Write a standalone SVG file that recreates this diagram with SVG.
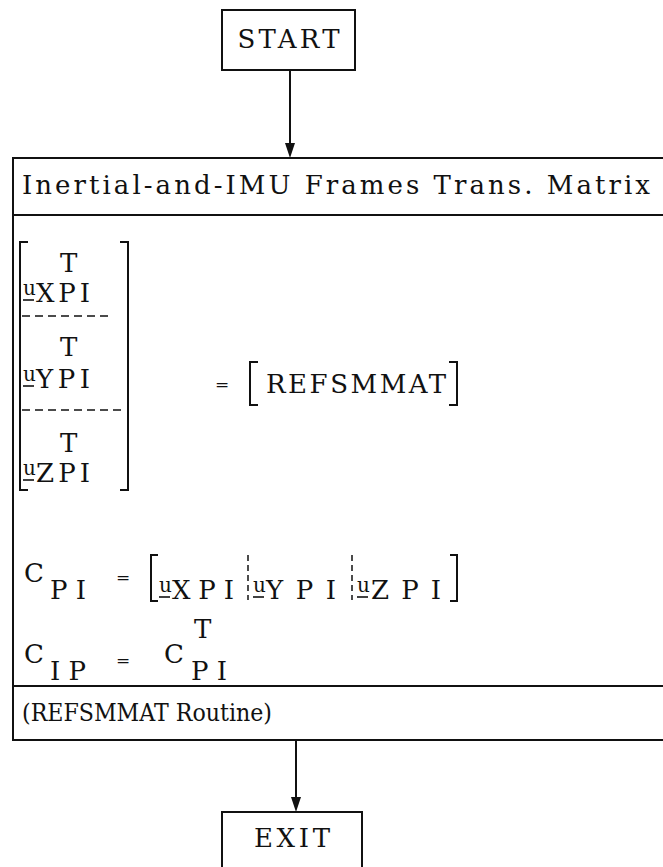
<svg xmlns="http://www.w3.org/2000/svg" width="663" height="867" viewBox="0 0 663 867">
<defs>
<style>
.t{font-family:"DejaVu Serif","Liberation Serif",serif;font-size:26px;fill:#111}
.s{font-family:"DejaVu Serif","Liberation Serif",serif;font-size:20px;fill:#111}
.eq{font-family:"DejaVu Serif","Liberation Serif",serif;font-size:17px;fill:#111}
.ln{stroke:#111;stroke-width:2;fill:none}
.ul{stroke:#111;stroke-width:1.6;fill:none}
.dh{stroke:#111;stroke-width:1.5;fill:none;stroke-dasharray:8 5}
.dv{stroke:#111;stroke-width:1.5;fill:none;stroke-dasharray:6 4}
.ah{fill:#111}
</style>
</defs>
<rect width="663" height="867" fill="#fff"/>

<g id="connectors">
<line class="ln" x1="290" y1="70" x2="290" y2="146"/>
<path class="ah" d="M285,143 L295,143 L290,158 Z"/>
<line class="ln" x1="296" y1="740" x2="296" y2="800"/>
<path class="ah" d="M291,797 L301,797 L296,812 Z"/>
</g>

<g id="start">
<rect class="ln" x="222" y="10" width="133" height="60"/>
<text class="t" x="288.5" y="48" text-anchor="middle" textLength="102" lengthAdjust="spacing">START</text>
</g>

<g id="process">
<path class="ln" d="M663,158 H13 V740 H663"/>
<line class="ln" x1="13" y1="215" x2="663" y2="215"/>
<line class="ln" x1="13" y1="686" x2="663" y2="686"/>
<text class="t" x="22" y="194" textLength="628" lengthAdjust="spacing">Inertial-and-IMU Frames Trans. Matrix</text>

<g id="column-matrix">
<path class="ln" d="M28,242 H20 V490 H28"/>
<path class="ln" d="M120,242 H128 V490 H120"/>
<text class="t" x="60" y="272">T</text>
<text class="s" x="23" y="295">u</text>
<line class="ul" x1="23" y1="300" x2="34" y2="300"/>
<text class="t" x="36" y="302" textLength="54" lengthAdjust="spacing">XPI</text>
<line class="dh" x1="22" y1="316" x2="113" y2="316"/>
<text class="t" x="60" y="356">T</text>
<text class="s" x="23" y="381">u</text>
<line class="ul" x1="23" y1="386" x2="34" y2="386"/>
<text class="t" x="36" y="388" textLength="54" lengthAdjust="spacing">YPI</text>
<line class="dh" x1="22" y1="410" x2="125" y2="410"/>
<text class="t" x="60" y="452">T</text>
<text class="s" x="23" y="475">u</text>
<line class="ul" x1="23" y1="480" x2="34" y2="480"/>
<text class="t" x="36" y="482" textLength="54" lengthAdjust="spacing">ZPI</text>
</g>

<g id="refsmmat-eq">
<text class="eq" x="222" y="390" text-anchor="middle">=</text>
<path class="ln" d="M258,362 H250 V405 H258"/>
<text class="t" x="266" y="393" textLength="180" lengthAdjust="spacing">REFSMMAT</text>
<path class="ln" d="M449,362 H457 V405 H449"/>
</g>

<g id="cpi">
<text class="t" x="24" y="582">C</text>
<text class="t" x="50" y="599" textLength="36" lengthAdjust="spacing">PI</text>
<text class="eq" x="123" y="583" text-anchor="middle">=</text>
<path class="ln" d="M158,555 H151 V601 H158"/>
<text class="s" x="159" y="592">u</text>
<line class="ul" x1="159" y1="597" x2="170" y2="597"/>
<text class="t" x="172" y="599" textLength="62" lengthAdjust="spacing">XPI</text>
<line class="dv" x1="248" y1="555" x2="248" y2="600"/>
<text class="s" x="253" y="592">u</text>
<line class="ul" x1="253" y1="597" x2="264" y2="597"/>
<text class="t" x="266" y="599" textLength="70" lengthAdjust="spacing">YPI</text>
<line class="dv" x1="352" y1="555" x2="352" y2="600"/>
<text class="s" x="357" y="592">u</text>
<line class="ul" x1="357" y1="597" x2="368" y2="597"/>
<text class="t" x="371" y="599" textLength="70" lengthAdjust="spacing">ZPI</text>
<path class="ln" d="M450,555 H457 V601 H450"/>
</g>

<g id="cip">
<text class="t" x="24" y="663">C</text>
<text class="t" x="50" y="680" textLength="36" lengthAdjust="spacing">IP</text>
<text class="eq" x="123" y="666" text-anchor="middle">=</text>
<text class="t" x="164" y="663">C</text>
<text class="t" x="194" y="638">T</text>
<text class="t" x="191" y="680" textLength="36" lengthAdjust="spacing">PI</text>
</g>

<text class="t" x="22" y="721" style="font-size:24px" textLength="250" lengthAdjust="spacingAndGlyphs">(REFSMMAT Routine)</text>
</g>

<g id="exit">
<rect class="ln" x="222" y="812" width="140" height="70"/>
<text class="t" x="292" y="847" text-anchor="middle" textLength="76" lengthAdjust="spacing">EXIT</text>
</g>
</svg>
